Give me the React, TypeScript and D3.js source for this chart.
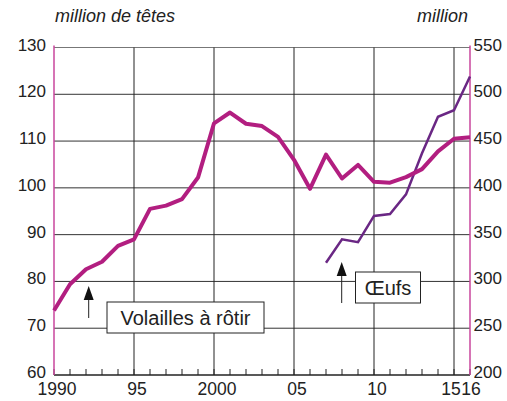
import React, { useEffect, useRef } from 'react';
import * as d3 from 'd3';

// Volailles à rôtir (million de têtes, left axis)
const volYears = d3.range(1990, 2017);
const volValues = [
  73.8, 79.4, 82.6, 84.2, 87.6, 89.0, 95.5, 96.2, 97.6, 102.2, 113.8, 116.1,
  113.7, 113.2, 110.9, 106.0, 99.8, 107.1, 102.0, 104.9, 101.3, 101.1, 102.3,
  104.0, 107.8, 110.5, 110.8,
];

// Œufs (million, right axis)
const eggYears = d3.range(2007, 2017);
const eggValues = [320, 345, 342, 370, 372, 393, 437, 476, 483, 519];

const leftTicks = [60, 70, 80, 90, 100, 110, 120, 130];
const rightTicks = [200, 250, 300, 350, 400, 450, 500, 550];
const gridYears = [1995, 2000, 2005, 2010, 2015];
const xLabels = [
  { year: 1990, text: '1990' },
  { year: 1995, text: '95' },
  { year: 2000, text: '2000' },
  { year: 2005, text: '05' },
  { year: 2010, text: '10' },
  { year: 2015, text: '15' },
  { year: 2016, text: '16' },
];

const PINK = '#b21e80';
const PURPLE = '#6a2784';

const App: React.FC = () => {
  const svgRef = useRef<SVGSVGElement>(null);

  useEffect(() => {
    if (!svgRef.current) return;
    const svg = d3.select(svgRef.current);
    svg.selectAll('*').remove();

    const width = 507;
    const height = 401;
    const left = 54;
    const right = 470;
    const top = 47.5;
    const bottom = 375;

    svg.attr('width', width).attr('height', height);

    const x = d3.scaleLinear().domain([1990, 2016]).range([left, right]);
    const yL = d3.scaleLinear().domain([60, 130]).range([bottom, top]);
    const yR = d3.scaleLinear().domain([200, 550]).range([bottom, top]);

    const font = 'Arial, "Liberation Sans", sans-serif';

    // horizontal grid
    svg
      .append('g')
      .selectAll('line')
      .data(leftTicks.filter((d) => d > 60))
      .enter()
      .append('line')
      .attr('x1', left)
      .attr('x2', right)
      .attr('y1', (d) => yL(d))
      .attr('y2', (d) => yL(d))
      .attr('stroke', (d) => (d === 130 ? '#777' : '#333'))
      .attr('stroke-width', 1);

    // vertical grid
    svg
      .append('g')
      .selectAll('line')
      .data(gridYears)
      .enter()
      .append('line')
      .attr('x1', (d) => x(d))
      .attr('x2', (d) => x(d))
      .attr('y1', top)
      .attr('y2', bottom)
      .attr('stroke', '#222')
      .attr('stroke-width', 1);

    // bottom axis + year ticks
    svg
      .append('line')
      .attr('x1', left)
      .attr('x2', right)
      .attr('y1', bottom)
      .attr('y2', bottom)
      .attr('stroke', '#222')
      .attr('stroke-width', 1.5);

    svg
      .append('g')
      .selectAll('line')
      .data(volYears)
      .enter()
      .append('line')
      .attr('x1', (d) => x(d))
      .attr('x2', (d) => x(d))
      .attr('y1', bottom)
      .attr('y2', bottom - 6)
      .attr('stroke', '#222')
      .attr('stroke-width', 1);

    // pink side axes
    [left, right].forEach((xx) => {
      svg
        .append('line')
        .attr('x1', xx)
        .attr('x2', xx)
        .attr('y1', top - 2)
        .attr('y2', bottom)
        .attr('stroke', '#c9469c')
        .attr('stroke-width', 1.5);
    });

    // tick labels
    svg
      .append('g')
      .selectAll('text')
      .data(leftTicks)
      .enter()
      .append('text')
      .attr('x', 46)
      .attr('y', (d) => yL(d) + 3)
      .attr('text-anchor', 'end')
      .attr('font-family', font)
      .attr('font-size', 17)
      .attr('fill', '#222')
      .text((d) => d);

    svg
      .append('g')
      .selectAll('text')
      .data(rightTicks)
      .enter()
      .append('text')
      .attr('x', 473.5)
      .attr('y', (d) => yR(d) + 3)
      .attr('text-anchor', 'start')
      .attr('font-family', font)
      .attr('font-size', 17)
      .attr('fill', '#222')
      .text((d) => d);

    svg
      .append('g')
      .selectAll('text')
      .data(xLabels)
      .enter()
      .append('text')
      .attr('x', (d) => x(d.year) + (d.text === '15' ? -3 : d.text === '16' ? 1 : 3))
      .attr('y', 395)
      .attr('text-anchor', 'middle')
      .attr('font-family', font)
      .attr('font-size', 17.5)
      .attr('fill', '#222')
      .text((d) => d.text);

    // units
    svg
      .append('text')
      .attr('x', 55)
      .attr('y', 21.5)
      .attr('font-family', font)
      .attr('font-style', 'italic')
      .attr('font-size', 18)
      .attr('fill', '#222')
      .text('million de têtes');

    svg
      .append('text')
      .attr('x', 468)
      .attr('y', 21.5)
      .attr('text-anchor', 'end')
      .attr('font-family', font)
      .attr('font-style', 'italic')
      .attr('font-size', 18)
      .attr('fill', '#222')
      .text('million');

    // lines
    const volLine = d3
      .line<number>()
      .x((_, i) => x(volYears[i]))
      .y((d) => yL(d));

    const eggLine = d3
      .line<number>()
      .x((_, i) => x(eggYears[i]))
      .y((d) => yR(d));

    svg
      .append('path')
      .datum(eggValues)
      .attr('d', eggLine)
      .attr('fill', 'none')
      .attr('stroke', PURPLE)
      .attr('stroke-width', 2.5);

    svg
      .append('path')
      .datum(volValues)
      .attr('d', volLine)
      .attr('fill', 'none')
      .attr('stroke', PINK)
      .attr('stroke-width', 4)
      .attr('stroke-linejoin', 'round');

    // labels with arrows
    const addLabel = (
      text: string,
      bx: number,
      by: number,
      bw: number,
      bh: number,
      ax: number,
      ayTip: number,
      ayEnd: number
    ) => {
      svg
        .append('rect')
        .attr('x', bx)
        .attr('y', by)
        .attr('width', bw)
        .attr('height', bh)
        .attr('fill', 'white')
        .attr('stroke', '#222')
        .attr('stroke-width', 1);
      svg
        .append('text')
        .attr('x', bx + bw / 2)
        .attr('y', by + bh / 2 + 7)
        .attr('text-anchor', 'middle')
        .attr('font-family', font)
        .attr('font-size', 20)
        .attr('fill', '#222')
        .text(text);
      svg
        .append('line')
        .attr('x1', ax)
        .attr('x2', ax)
        .attr('y1', ayTip + 10)
        .attr('y2', ayEnd)
        .attr('stroke', '#222')
        .attr('stroke-width', 1);
      svg
        .append('path')
        .attr('d', `M${ax},${ayTip} L${ax - 5},${ayTip + 14} L${ax + 5},${ayTip + 14} Z`)
        .attr('fill', '#111');
    };

    addLabel('Volailles à rôtir', 107, 302, 157, 31, 88.7, 286, 318);
    addLabel('Œufs', 355.5, 272, 65, 31, 341.7, 262, 303);
  }, []);

  return (
    <svg
      ref={svgRef}
      style={{ position: 'absolute', left: 0, top: 0, display: 'block' }}
    ></svg>
  );
};

export default App;
